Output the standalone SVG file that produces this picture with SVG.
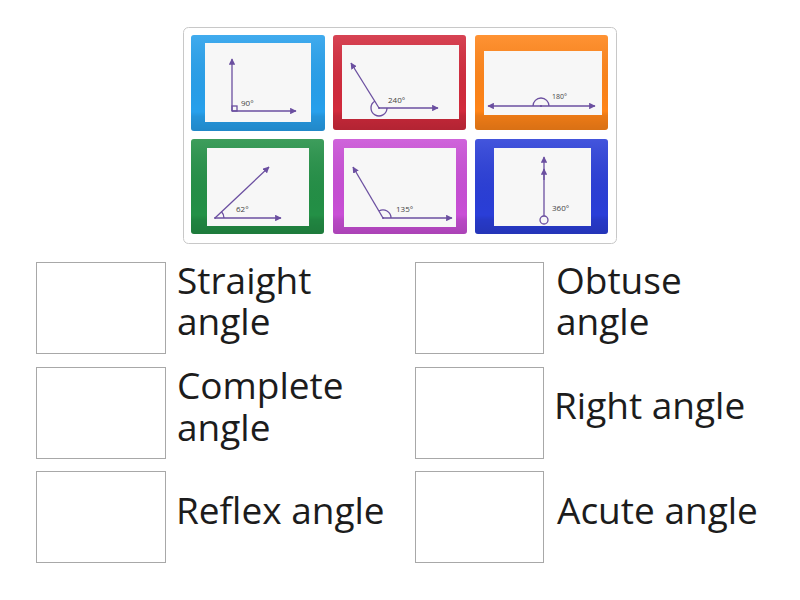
<svg xmlns="http://www.w3.org/2000/svg" width="800" height="600" viewBox="0 0 800 600">
<style>
.tile{stroke:none}
.inner{fill:#f7f7f7}
.ln{stroke:#6b4fa0;stroke-width:1.3;fill:none}
.lbl{font-family:"Open Sans","Liberation Sans",sans-serif;font-size:8px;fill:#444}
.box{fill:#fff;stroke:#a8a8a8;stroke-width:1}
.ans{font-family:"Open Sans","Liberation Sans",sans-serif;font-size:37px;font-weight:400;fill:#1c1c1c}
</style>
<defs>
<linearGradient id="shade" x1="0" y1="0" x2="0" y2="1">
<stop offset="0" stop-color="#fff" stop-opacity="0.12"/>
<stop offset="0.8" stop-color="#000" stop-opacity="0"/>
<stop offset="0.85" stop-color="#000" stop-opacity="0.08"/>
<stop offset="1" stop-color="#000" stop-opacity="0.15"/>
</linearGradient>
<marker id="ah" viewBox="0 0 10 10" refX="9" refY="5" markerWidth="5" markerHeight="5" orient="auto-start-reverse">
<path d="M0,0 L10,5 L0,10 z" fill="#6b4fa0"/>
</marker>
</defs>
<rect width="800" height="600" fill="#fff"/>
<rect x="183.5" y="27.5" width="433" height="216" rx="5" fill="#fff" stroke="#c8c8c8"/>

<g id="tile-right">
<rect class="tile" x="191" y="35" width="134" height="96" rx="3" fill="#27a0ec"/>
<rect x="191" y="35" width="134" height="96" rx="3" fill="url(#shade)"/>
<rect class="inner" x="205" y="43" width="106" height="79"/>
<line class="ln" x1="232" y1="111" x2="232" y2="59" marker-end="url(#ah)"/>
<line class="ln" x1="232" y1="111" x2="296" y2="111" marker-end="url(#ah)"/>
<rect class="ln" x="232" y="106" width="5" height="5"/>
<text class="lbl" x="241" y="106">90°</text>
</g>

<g id="tile-reflex">
<rect class="tile" x="333" y="35" width="133" height="95" rx="3" fill="#d22a3c"/>
<rect x="333" y="35" width="133" height="95" rx="3" fill="url(#shade)"/>
<rect class="inner" x="342" y="45" width="117" height="74"/>
<line class="ln" x1="379" y1="108" x2="351" y2="63" marker-end="url(#ah)"/>
<line class="ln" x1="379" y1="108" x2="438" y2="108" marker-end="url(#ah)"/>
<path class="ln" d="M387,108 A8,8 0 1 1 375,101"/>
<circle cx="379" cy="108" r="1" fill="#6b4fa0"/>
<text class="lbl" x="388" y="103">240°</text>
</g>

<g id="tile-straight">
<rect class="tile" x="475" y="35" width="133" height="95" rx="3" fill="#ff8418"/>
<rect x="475" y="35" width="133" height="95" rx="3" fill="url(#shade)"/>
<rect class="inner" x="484" y="51" width="118" height="64"/>
<line class="ln" x1="488" y1="106" x2="595" y2="106" marker-start="url(#ah)" marker-end="url(#ah)"/>
<path class="ln" d="M533,106 A8,8 0 0 1 549,106"/>
<circle cx="541" cy="106" r="1" fill="#6b4fa0"/>
<text class="lbl" x="552" y="99" style="font-size:7px">180°</text>
</g>

<g id="tile-acute">
<rect class="tile" x="191" y="139" width="133" height="95" rx="3" fill="#239046"/>
<rect x="191" y="139" width="133" height="95" rx="3" fill="url(#shade)"/>
<rect class="inner" x="207" y="148" width="102" height="78"/>
<line class="ln" x1="215" y1="218" x2="269" y2="167" marker-end="url(#ah)"/>
<line class="ln" x1="215" y1="218" x2="281" y2="218" marker-end="url(#ah)"/>
<path class="ln" d="M224,218 A9,9 0 0 0 221.5,211.8"/>
<circle cx="215" cy="218" r="1" fill="#6b4fa0"/>
<text class="lbl" x="236" y="212">62°</text>
</g>

<g id="tile-obtuse">
<rect class="tile" x="333" y="139" width="134" height="95" rx="3" fill="#c94fd6"/>
<rect x="333" y="139" width="134" height="95" rx="3" fill="url(#shade)"/>
<rect class="inner" x="344" y="148" width="112" height="79"/>
<line class="ln" x1="383" y1="218" x2="353" y2="167" marker-end="url(#ah)"/>
<line class="ln" x1="383" y1="218" x2="452" y2="218" marker-end="url(#ah)"/>
<path class="ln" d="M391,218 A8,8 0 0 0 379,211"/>
<circle cx="383" cy="218" r="1" fill="#6b4fa0"/>
<text class="lbl" x="396" y="212">135°</text>
</g>

<g id="tile-complete">
<rect class="tile" x="475" y="139" width="133" height="95" rx="3" fill="#2a3ed8"/>
<rect x="475" y="139" width="133" height="95" rx="3" fill="url(#shade)"/>
<rect class="inner" x="494" y="148" width="97" height="78"/>
<line class="ln" x1="544" y1="216" x2="544" y2="157" marker-end="url(#ah)"/>
<line class="ln" x1="544" y1="180" x2="544" y2="169" marker-end="url(#ah)"/>
<circle class="ln" cx="544" cy="220" r="4"/>
<text class="lbl" x="552" y="211">360°</text>
</g>

<g id="answer-straight">
<rect class="box" x="36.5" y="262.5" width="129" height="91"/>
<text class="ans" x="177" y="294">Straight<tspan x="177" dy="41">angle</tspan></text>
</g>
<g id="answer-obtuse">
<rect class="box" x="415.5" y="262.5" width="128" height="91"/>
<text class="ans" x="556" y="294">Obtuse<tspan x="556" dy="41">angle</tspan></text>
</g>
<g id="answer-complete">
<rect class="box" x="36.5" y="367.5" width="129" height="91"/>
<text class="ans" x="177" y="399">Complete<tspan x="177" dy="42">angle</tspan></text>
</g>
<g id="answer-right">
<rect class="box" x="415.5" y="367.5" width="128" height="91"/>
<text class="ans" x="554" y="419">Right angle</text>
</g>
<g id="answer-reflex">
<rect class="box" x="36.5" y="471.5" width="129" height="91"/>
<text class="ans" x="176" y="524">Reflex angle</text>
</g>
<g id="answer-acute">
<rect class="box" x="415.5" y="471.5" width="128" height="91"/>
<text class="ans" x="557" y="524">Acute angle</text>
</g>
</svg>
